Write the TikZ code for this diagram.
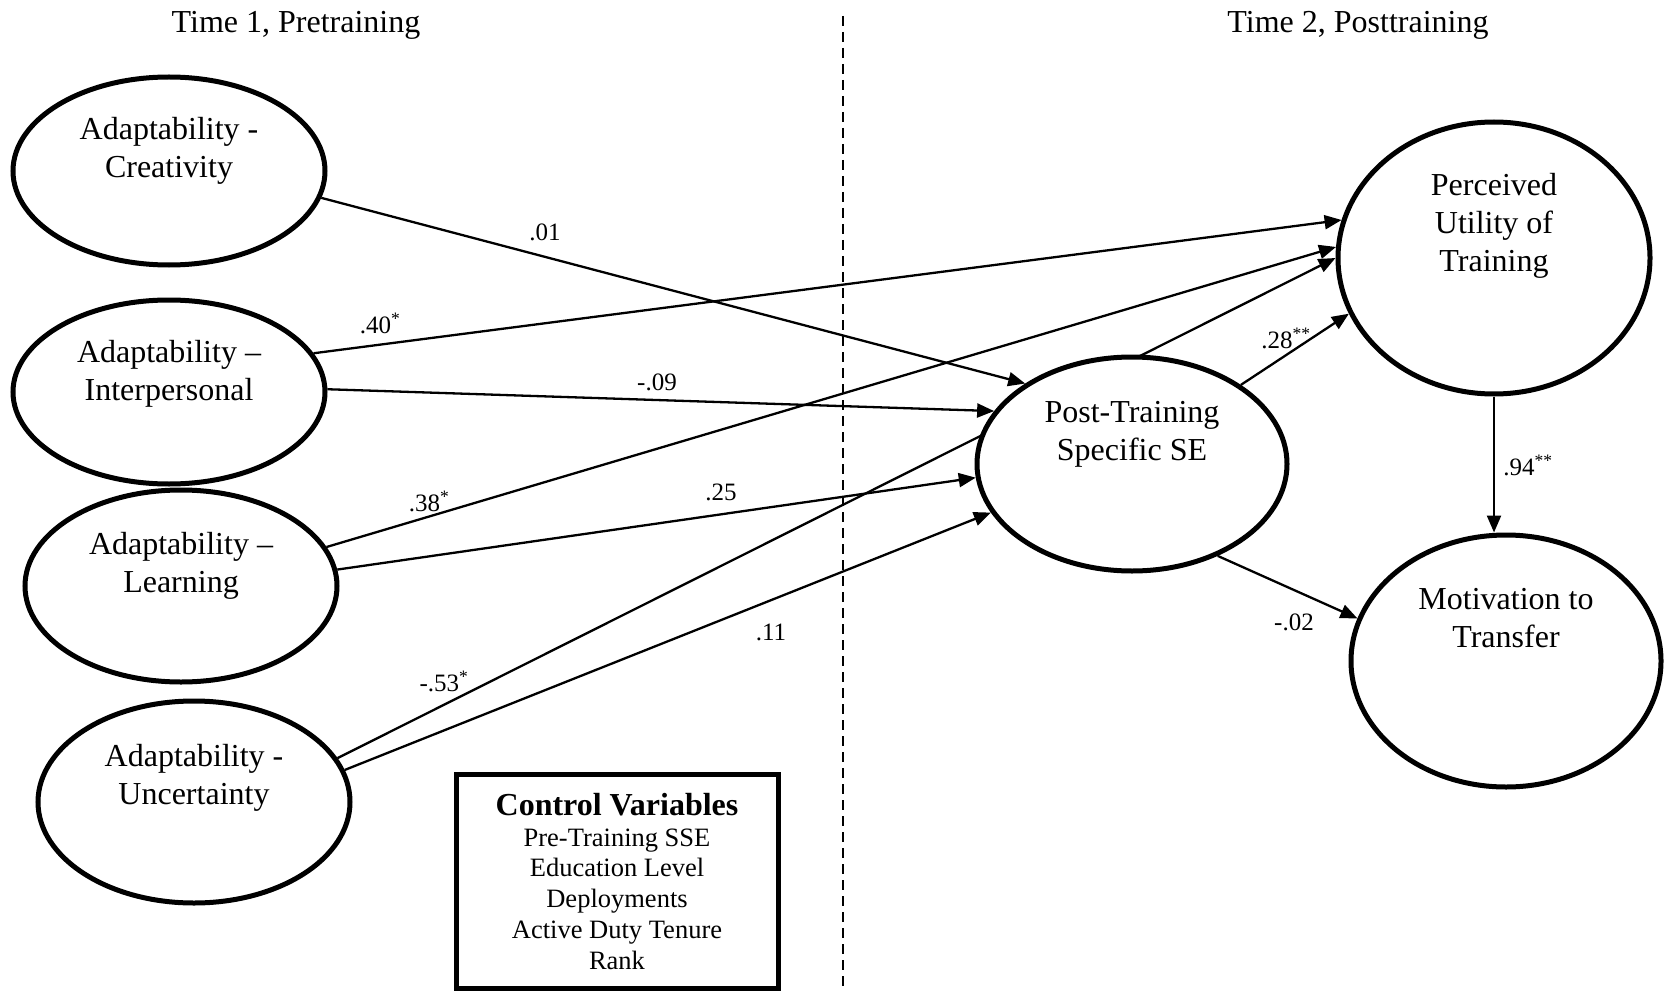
\documentclass[tikz,border=0pt]{standalone}
\usepackage{fontspec}
\setmainfont{Liberation Serif}
\usetikzlibrary{shapes.geometric,arrows.meta}
\pgfdeclarelayer{background}
\pgfsetlayers{background,main}
\begin{document}
\begin{tikzpicture}[x=1pt,y=1pt,
  ell/.style={ellipse, draw, line width=5pt, fill=white, inner sep=0pt},
  ntext/.style={align=center, font=\fontsize{32}{38}\selectfont, inner sep=0pt},
  ttl/.style={font=\fontsize{32}{38}\selectfont, inner sep=0pt},
  arr/.style={line width=2.3pt, -{Triangle[length=17pt,width=14pt]}},
  lbl/.style={font=\fontsize{25}{28}\selectfont, inner sep=0pt, text height=17pt, text depth=0pt},
  divider/.style={line width=1.5pt, dash pattern=on 10pt off 6pt},
  cvbox/.style={draw, line width=5pt, inner sep=0pt},
]
\useasboundingbox (0,0) rectangle (1664,-992);

% titles
\node[ttl] (T1) at (296,-25) {Time 1, Pretraining};
\node[ttl] (T2) at (1358,-25) {Time 2, Posttraining};

% divider
\coordinate (dtop) at (843,-16);
\coordinate (dbot) at (843,-992);
\draw[divider] (dtop) -- (dbot);

% ellipses
\node[ell, minimum width=312pt, minimum height=188pt] (C) at (169,-171) {};
\node[ell, minimum width=312pt, minimum height=184pt] (I) at (169,-392) {};
\node[ell, minimum width=312pt, minimum height=192pt] (L) at (181,-586) {};
\node[ell, minimum width=312pt, minimum height=202pt] (U) at (194,-802) {};
\node[ell, minimum width=310pt, minimum height=214pt] (S) at (1132,-464) {};
\node[ell, minimum width=312pt, minimum height=272pt] (P) at (1494,-258) {};
\node[ell, minimum width=310pt, minimum height=252pt] (M) at (1506,-661) {};

% ellipse texts
\node[ntext] (Ct) at (169,-151) {Adaptability -\\Creativity};
\node[ntext] (It) at (169,-374) {Adaptability --\\Interpersonal};
\node[ntext] (Lt) at (181,-566) {Adaptability --\\Learning};
\node[ntext] (Ut) at (194,-778) {Adaptability -\\Uncertainty};
\node[ntext] (St) at (1132,-434) {Post-Training\\Specific SE};
\node[ntext] (Pt) at (1494,-226) {Perceived\\Utility of\\Training};
\node[ntext] (Mt) at (1506,-618) {Motivation to\\Transfer};

% control variables box
\node[cvbox, minimum width=322pt, minimum height=214pt] (CV) at (617,-881) {};
\node[font=\fontsize{32}{38}\selectfont\bfseries, inner sep=0pt] (CVh) at (617,-805) {Control Variables};
\node[align=center, font=\fontsize{26.5}{30.75}\selectfont, inner sep=0pt] (CVl) at (617,-899)
  {Pre-Training SSE\\Education Level\\Deployments\\Active Duty Tenure\\Rank};

% paths
\begin{pgfonlayer}{background}
\draw[arr] (C.-10.7) -- (S.143.6);
\draw[arr] (I.15.6) -- (P.166.5);
\draw[arr] (I.1.8) -- (S.159.6);
\draw[arr] (L.15.7) -- (P.176.4);
\draw[arr] (L.6.9) -- (S.185.8);
\draw[arr] (U.17.7) -- (P.180);
\draw[arr] (U.12.6) -- (S.199);
\draw[arr] (S.36) -- (P.201.3);
\draw[arr] (S.-47.5) -- (M.164.3);
\draw[arr] (P.south) -- (P.south |- M.north);
\end{pgfonlayer}

% path labels
\node[lbl] (l01) at (545,-232) {.01};
\node[lbl] (l40) at (380,-325) {.40\textsuperscript{*}};
\node[lbl] (l09) at (657,-382) {-.09};
\node[lbl] (l38) at (429,-503) {.38\textsuperscript{*}};
\node[lbl] (l25) at (721,-492) {.25};
\node[lbl] (l11) at (771,-632) {.11};
\node[lbl] (l53) at (444,-683) {-.53\textsuperscript{*}};
\node[lbl] (l28) at (1286,-340) {.28\textsuperscript{**}};
\node[lbl] (l94) at (1528,-467) {.94\textsuperscript{**}};
\node[lbl] (l02) at (1294,-622) {-.02};
\end{tikzpicture}
\end{document}
